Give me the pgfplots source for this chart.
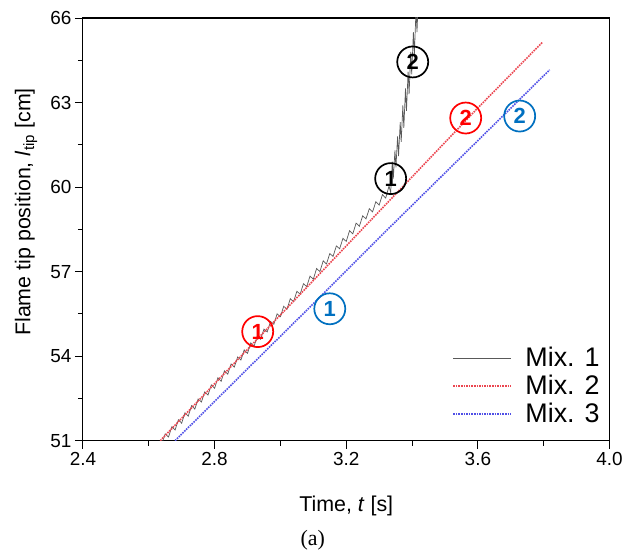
\documentclass[border=0pt]{standalone}
\usepackage{fontspec}
\setmainfont{Liberation Sans}
\newfontfamily\seriffont{Liberation Serif}
\usepackage{pgfplots}
\pgfplotsset{compat=1.18}

\definecolor{mixred}{RGB}{235,70,80}
\definecolor{mixblue}{RGB}{80,80,230}
\definecolor{circblue}{RGB}{0,112,192}

\pgfplotstableread{
t l
2.635 51.00
2.80 53.02
3.00 55.46
3.20 57.91
3.40 60.36
3.60 62.81
3.797 65.15
}\mixtwo

\pgfplotstableread{
t l
2.68 51.00
2.90 53.55
3.10 55.86
3.30 58.20
3.50 60.50
3.70 62.80
3.818 64.16
}\mixthree

\tikzset{circnum/.style={circle, draw=#1, text=#1, line width=1.7bp, minimum size=31bp,
  inner sep=0pt, font=\bfseries\fontsize{22}{22}\selectfont}}

\begin{document}
\begin{tikzpicture}
\begin{axis}[
  scale only axis,
  width=527bp, height=423bp,
  xmin=2.4, xmax=4.0,
  ymin=51, ymax=66,
  xtick={2.4,2.8,...,4.0},
  ytick={51,54,...,66},
  minor x tick num=1,
  minor y tick num=1,
  tick align=outside,
  xtick pos=bottom, ytick pos=left,
  major tick length=8bp,
  minor tick length=5bp,
  axis line style={line width=1.1bp},
  every tick/.style={line width=0.9bp, black},
  /pgf/number format/assume math mode=true,
  xticklabel style={/pgf/number format/.cd, fixed, fixed zerofill, precision=1},
  yticklabel style={/pgf/number format/.cd, fixed, precision=0},
  tick label style={font=\fontsize{19}{22}\selectfont},
  xlabel={Time, \textit{t} [s]},
  ylabel={Flame tip position, \textit{l}\textsubscript{tip} [cm]},
  label style={font=\fontsize{21.5}{24}\selectfont},
  xlabel style={at={(axis description cs:0.5,-0.154)}, anchor=center},
  ylabel style={at={(axis description cs:-0.108,0.541)}, anchor=center},
  legend style={draw=none, fill=none, at={(axis description cs:0.99,0.03)},
    anchor=south east, font=\fontsize{27}{30}\selectfont, row sep=4bp,
    nodes={inner sep=1.5bp}},
  legend cell align=left,
  legend image code/.code={\draw[mark repeat=2,mark phase=2,#1] plot coordinates {(0bp,0bp) (29bp,0bp) (58bp,0bp)};
    \path (70bp,0bp);},
]
\addplot[black!65, line width=0.7bp] coordinates {
  (2.64,50.90) (2.65,51.24) (2.66,51.13) (2.67,51.49) (2.68,51.38) (2.69,51.74)
  (2.70,51.62) (2.71,51.99) (2.72,51.87) (2.73,52.24) (2.74,52.12) (2.75,52.48)
  (2.76,52.37) (2.77,52.73) (2.78,52.62) (2.79,52.98) (2.80,52.86) (2.81,53.23)
  (2.82,53.11) (2.83,53.48) (2.84,53.36) (2.85,53.72) (2.86,53.61) (2.87,53.97)
  (2.88,53.86) (2.89,54.22) (2.90,54.10) (2.91,54.47) (2.92,54.35) (2.93,54.72)
  (2.94,54.60) (2.95,54.96) (2.96,54.86) (2.97,55.23) (2.98,55.13) (2.99,55.50)
  (3.00,55.40) (3.01,55.77) (3.02,55.66) (3.03,56.04) (3.04,55.93) (3.05,56.30)
  (3.06,56.20) (3.07,56.57) (3.08,56.47) (3.09,56.84) (3.10,56.73) (3.11,57.11)
  (3.12,57.00) (3.13,57.38) (3.14,57.27) (3.15,57.64) (3.16,57.54) (3.17,57.91)
  (3.18,57.81) (3.19,58.18) (3.20,58.07) (3.21,58.45) (3.22,58.34) (3.23,58.72)
  (3.24,58.61) (3.25,58.98) (3.26,58.87) (3.27,59.23) (3.28,59.12) (3.29,59.48)
  (3.30,59.36) (3.31,59.73) (3.32,59.61) (3.33,60.04)
  (3.335,59.80) (3.340,60.90) (3.343,60.30) (3.348,61.30) (3.351,60.70)
  (3.356,61.80) (3.359,61.10) (3.364,62.30) (3.367,61.60) (3.372,62.90)
  (3.375,62.10) (3.380,63.50) (3.383,62.70) (3.388,64.10) (3.391,63.30)
  (3.396,64.80) (3.399,64.00) (3.404,65.50) (3.407,64.70) (3.412,66.30)
  (3.415,65.50) (3.420,67.00)
};
\addlegendentry{Mix. 1}
\addplot[mixred, line width=1.6bp, densely dotted] table[x=t, y=l] {\mixtwo};
\addlegendentry{Mix. 2}
\addplot[mixblue, line width=1.6bp, densely dotted] table[x=t, y=l] {\mixthree};
\addlegendentry{Mix. 3}

\node[circnum=red] at (axis cs:2.931,54.87) {1};
\node[circnum=red] at (axis cs:3.563,62.45) {2};
\node[circnum=circblue] at (axis cs:3.150,55.68) {1};
\node[circnum=circblue] at (axis cs:3.727,62.52) {2};
\node[circnum=black] at (axis cs:3.335,60.30) {1};
\node[circnum=black] at (axis cs:3.402,64.44) {2};
\end{axis}
\node[font=\seriffont\fontsize{22}{24}\selectfont] at ([shift={(230bp,-100bp)}]current axis.south west) {(a)};
\path ([shift={(-83bp,-114bp)}]current axis.south west) rectangle ([shift={(16bp,18bp)}]current axis.north east);
\end{tikzpicture}
\end{document}
